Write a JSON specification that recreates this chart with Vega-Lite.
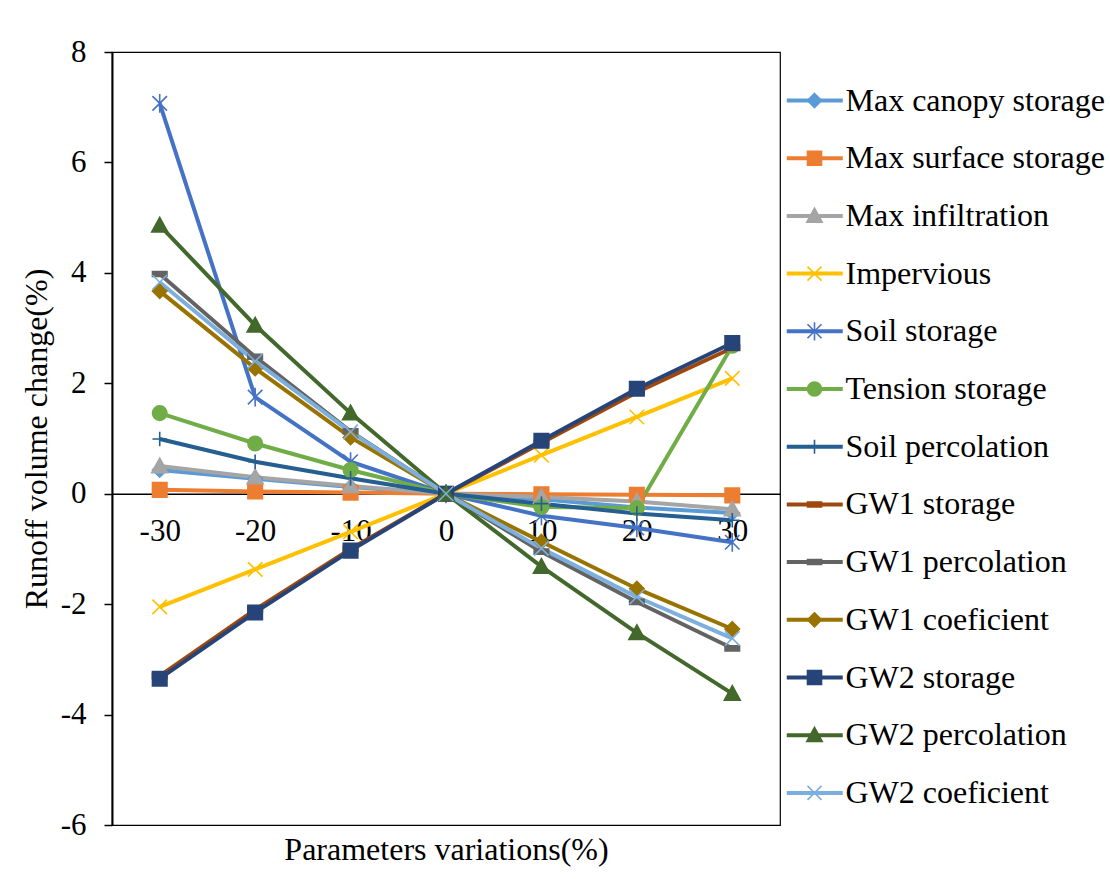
{
  "$schema": "https://vega.github.io/schema/vega-lite/v6.json",
  "width": 668,
  "height": 773,
  "autosize": "none",
  "padding": {"left": 112, "top": 52, "right": 330, "bottom": 54},
  "background": "white",
  "config": {"view": {"stroke": "#000", "strokeWidth": 1.2}, "font": "Liberation Serif"},
  "data": {"values": [
    {"param": "Max canopy storage", "x": -30, "v": 0.43}, {"param": "Max canopy storage", "x": -20, "v": 0.27}, {"param": "Max canopy storage", "x": -10, "v": 0.12}, {"param": "Max canopy storage", "x": 0, "v": 0}, {"param": "Max canopy storage", "x": 10, "v": -0.1}, {"param": "Max canopy storage", "x": 20, "v": -0.25}, {"param": "Max canopy storage", "x": 30, "v": -0.35},
    {"param": "Max surface storage", "x": -30, "v": 0.07}, {"param": "Max surface storage", "x": -20, "v": 0.04}, {"param": "Max surface storage", "x": -10, "v": 0.02}, {"param": "Max surface storage", "x": 0, "v": 0}, {"param": "Max surface storage", "x": 10, "v": -0.01}, {"param": "Max surface storage", "x": 20, "v": -0.02}, {"param": "Max surface storage", "x": 30, "v": -0.03},
    {"param": "Max infiltration", "x": -30, "v": 0.5}, {"param": "Max infiltration", "x": -20, "v": 0.3}, {"param": "Max infiltration", "x": -10, "v": 0.14}, {"param": "Max infiltration", "x": 0, "v": 0}, {"param": "Max infiltration", "x": 10, "v": -0.06}, {"param": "Max infiltration", "x": 20, "v": -0.14}, {"param": "Max infiltration", "x": 30, "v": -0.28},
    {"param": "Impervious", "x": -30, "v": -2.05}, {"param": "Impervious", "x": -20, "v": -1.37}, {"param": "Impervious", "x": -10, "v": -0.69}, {"param": "Impervious", "x": 0, "v": 0}, {"param": "Impervious", "x": 10, "v": 0.7}, {"param": "Impervious", "x": 20, "v": 1.39}, {"param": "Impervious", "x": 30, "v": 2.09},
    {"param": "Soil storage", "x": -30, "v": 7.07}, {"param": "Soil storage", "x": -20, "v": 1.75}, {"param": "Soil storage", "x": -10, "v": 0.58}, {"param": "Soil storage", "x": 0, "v": 0}, {"param": "Soil storage", "x": 10, "v": -0.4}, {"param": "Soil storage", "x": 20, "v": -0.62}, {"param": "Soil storage", "x": 30, "v": -0.88},
    {"param": "Tension storage", "x": -30, "v": 1.46}, {"param": "Tension storage", "x": -20, "v": 0.91}, {"param": "Tension storage", "x": -10, "v": 0.43}, {"param": "Tension storage", "x": 0, "v": 0}, {"param": "Tension storage", "x": 10, "v": -0.24}, {"param": "Tension storage", "x": 20, "v": -0.26}, {"param": "Tension storage", "x": 30, "v": 2.68},
    {"param": "Soil percolation", "x": -30, "v": 0.99}, {"param": "Soil percolation", "x": -20, "v": 0.58}, {"param": "Soil percolation", "x": -10, "v": 0.28}, {"param": "Soil percolation", "x": 0, "v": 0}, {"param": "Soil percolation", "x": 10, "v": -0.18}, {"param": "Soil percolation", "x": 20, "v": -0.36}, {"param": "Soil percolation", "x": 30, "v": -0.48},
    {"param": "GW1 storage", "x": -30, "v": -3.3}, {"param": "GW1 storage", "x": -20, "v": -2.1}, {"param": "GW1 storage", "x": -10, "v": -1.0}, {"param": "GW1 storage", "x": 0, "v": 0}, {"param": "GW1 storage", "x": 10, "v": 0.92}, {"param": "GW1 storage", "x": 20, "v": 1.84}, {"param": "GW1 storage", "x": 30, "v": 2.64},
    {"param": "GW1 percolation", "x": -30, "v": 3.98}, {"param": "GW1 percolation", "x": -20, "v": 2.48}, {"param": "GW1 percolation", "x": -10, "v": 1.13}, {"param": "GW1 percolation", "x": 0, "v": 0}, {"param": "GW1 percolation", "x": 10, "v": -1.05}, {"param": "GW1 percolation", "x": 20, "v": -1.96}, {"param": "GW1 percolation", "x": 30, "v": -2.8},
    {"param": "GW1 coeficient", "x": -30, "v": 3.67}, {"param": "GW1 coeficient", "x": -20, "v": 2.27}, {"param": "GW1 coeficient", "x": -10, "v": 1.02}, {"param": "GW1 coeficient", "x": 0, "v": 0}, {"param": "GW1 coeficient", "x": 10, "v": -0.87}, {"param": "GW1 coeficient", "x": 20, "v": -1.72}, {"param": "GW1 coeficient", "x": 30, "v": -2.45},
    {"param": "GW2 storage", "x": -30, "v": -3.35}, {"param": "GW2 storage", "x": -20, "v": -2.15}, {"param": "GW2 storage", "x": -10, "v": -1.03}, {"param": "GW2 storage", "x": 0, "v": 0}, {"param": "GW2 storage", "x": 10, "v": 0.96}, {"param": "GW2 storage", "x": 20, "v": 1.9}, {"param": "GW2 storage", "x": 30, "v": 2.73},
    {"param": "GW2 percolation", "x": -30, "v": 4.86}, {"param": "GW2 percolation", "x": -20, "v": 3.05}, {"param": "GW2 percolation", "x": -10, "v": 1.46}, {"param": "GW2 percolation", "x": 0, "v": 0}, {"param": "GW2 percolation", "x": 10, "v": -1.32}, {"param": "GW2 percolation", "x": 20, "v": -2.52}, {"param": "GW2 percolation", "x": 30, "v": -3.62},
    {"param": "GW2 coeficient", "x": -30, "v": 3.83}, {"param": "GW2 coeficient", "x": -20, "v": 2.4}, {"param": "GW2 coeficient", "x": -10, "v": 1.12}, {"param": "GW2 coeficient", "x": 0, "v": 0}, {"param": "GW2 coeficient", "x": 10, "v": -0.99}, {"param": "GW2 coeficient", "x": 20, "v": -1.87}, {"param": "GW2 coeficient", "x": 30, "v": -2.62}
  ]},
  "encoding": {
    "x": {
      "field": "x", "type": "ordinal",
      "scale": {"type": "point", "padding": 0.5, "domain": [-30, -20, -10, 0, 10, 20, 30]},
      "axis": {
        "title": "Parameters variations(%)", "orient": "bottom", "offset": -331.3,
        "ticks": false, "grid": false, "domainColor": "#000", "domainWidth": 1.5,
        "labelAngle": 0, "labelFont": "Liberation Serif", "labelFontSize": 31, "labelColor": "#000", "labelPadding": 23,
        "titleFont": "Liberation Serif", "titleFontSize": 32, "titleFontWeight": "normal", "titleColor": "#000",
        "titleY": 366, "titleBaseline": "alphabetic"
      }
    },
    "y": {
      "field": "v", "type": "quantitative",
      "scale": {"domain": [-6, 8], "nice": false, "zero": false},
      "axis": {
        "title": "Runoff volume change(%)", "values": [-6, -4, -2, 0, 2, 4, 6, 8], "grid": false,
        "labelExpr": "'' + datum.value",
        "domainColor": "#000", "domainWidth": 2, "tickColor": "#000", "tickWidth": 1.5, "tickSize": 8,
        "labelFont": "Liberation Serif", "labelFontSize": 31, "labelColor": "#000", "labelPadding": 18,
        "titleFont": "Liberation Serif", "titleFontSize": 32, "titleFontWeight": "normal", "titleColor": "#000", "titlePadding": 7
      }
    }
  },
  "layer": [
    {
      "mark": {"type": "line", "strokeWidth": 4},
      "encoding": {
        "color": {
          "field": "param", "type": "nominal",
          "sort": ["Max canopy storage", "Max surface storage", "Max infiltration", "Impervious", "Soil storage", "Tension storage", "Soil percolation", "GW1 storage", "GW1 percolation", "GW1 coeficient", "GW2 storage", "GW2 percolation", "GW2 coeficient"],
          "scale": {
            "range": ["#5B9BD5", "#ED7D31", "#A5A5A5", "#FFC000", "#4472C4", "#70AD47", "#255E91", "#9E480E", "#636363", "#997300", "#264478", "#43682B", "#7CAFDD"]
          },
          "legend": {
            "orient": "none", "legendX": 654.25, "legendY": 0, "title": null, "padding": 32.5,
            "symbolType": "M-4,0L4,0", "symbolSize": 196, "symbolStrokeWidth": 4,
            "labelFont": "Liberation Serif", "labelFontSize": 32, "labelColor": "#000", "labelOffset": 14.75,
            "labelLimit": 400, "rowPadding": 25.7
          }
        }
      }
    },
    {
      "mark": {"type": "point", "filled": true, "opacity": 1, "size": 210, "strokeWidth": 1.6},
      "encoding": {
        "fill": {
          "field": "param", "type": "nominal",
          "scale": {
            "domain": ["Max canopy storage", "Max surface storage", "Max infiltration", "Impervious", "Soil storage", "Tension storage", "Soil percolation", "GW1 storage", "GW1 percolation", "GW1 coeficient", "GW2 storage", "GW2 percolation", "GW2 coeficient"],
            "range": ["#5B9BD5", "#ED7D31", "#A5A5A5", "#FFC000", "#4472C4", "#70AD47", "#255E91", "#9E480E", "#636363", "#997300", "#264478", "#43682B", "#7CAFDD"]
          },
          "legend": {
            "orient": "right", "offset": -13.75, "title": null, "padding": 32.5,
            "symbolSize": 196, "symbolStrokeWidth": 1.6, "symbolOpacity": 1,
            "labelFont": "Liberation Serif", "labelFontSize": 32, "labelOpacity": 0, "labelOffset": 14.75,
            "labelLimit": 400, "rowPadding": 25.7
          }
        },
        "stroke": {
          "field": "param", "type": "nominal",
          "scale": {
            "domain": ["Max canopy storage", "Max surface storage", "Max infiltration", "Impervious", "Soil storage", "Tension storage", "Soil percolation", "GW1 storage", "GW1 percolation", "GW1 coeficient", "GW2 storage", "GW2 percolation", "GW2 coeficient"],
            "range": ["#5B9BD5", "#ED7D31", "#A5A5A5", "#FFC000", "#4472C4", "#70AD47", "#255E91", "#9E480E", "#636363", "#997300", "#264478", "#43682B", "#7CAFDD"]
          },
          "legend": {
            "orient": "right", "offset": -13.75, "title": null, "padding": 32.5,
            "symbolSize": 196, "symbolStrokeWidth": 1.6, "symbolOpacity": 1,
            "labelFont": "Liberation Serif", "labelFontSize": 32, "labelOpacity": 0, "labelOffset": 14.75,
            "labelLimit": 400, "rowPadding": 25.7
          }
        },
        "shape": {
          "field": "param", "type": "nominal",
          "scale": {
            "domain": ["Max canopy storage", "Max surface storage", "Max infiltration", "Impervious", "Soil storage", "Tension storage", "Soil percolation", "GW1 storage", "GW1 percolation", "GW1 coeficient", "GW2 storage", "GW2 percolation", "GW2 coeficient"],
            "range": ["M0,-1L1,0L0,1L-1,0Z", "M-1,-1L1,-1L1,1L-1,1Z", "M0,-1.1L1.1,0.9L-1.1,0.9Z", "M-1,-1L1,1M-1,1L1,-1", "M-1,-1L1,1M-1,1L1,-1M0,-1.3L0,1.3", "circle", "M-1,0L1,0M0,-1L0,1", "M-1,-0.35L1,-0.35L1,0.35L-1,0.35Z", "M-1,-0.35L1,-0.35L1,0.35L-1,0.35Z", "M0,-1L1,0L0,1L-1,0Z", "M-1,-1L1,-1L1,1L-1,1Z", "M0,-1.1L1.1,0.9L-1.1,0.9Z", "M-1,-1L1,1M-1,1L1,-1"]
          },
          "legend": {
            "orient": "right", "offset": -13.75, "title": null, "padding": 32.5,
            "symbolSize": 196, "symbolStrokeWidth": 1.6, "symbolOpacity": 1,
            "labelFont": "Liberation Serif", "labelFontSize": 32, "labelOpacity": 0, "labelOffset": 14.75,
            "labelLimit": 400, "rowPadding": 25.7
          }
        }
      }
    }
  ]
}
